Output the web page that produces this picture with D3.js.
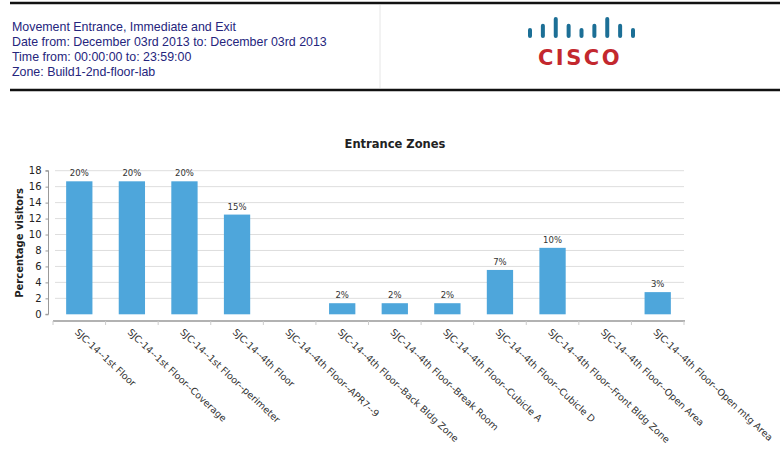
<!DOCTYPE html>
<html><head><meta charset="utf-8">
<script src="https://cdn.jsdelivr.net/npm/d3@7"></script>
<style>body{margin:0;background:#fff}svg{display:block}</style>
</head><body>
<svg id="c" width="780" height="471"></svg>
<script>
const headerLines = ["Movement Entrance, Immediate and Exit","Date from: December 03rd 2013 to: December 03rd 2013","Time from: 00:00:00 to: 23:59:00","Zone: Build1-2nd-floor-lab"];
const chartTitle = "Entrance Zones";
const yTitle = "Percentage visitors";
const categories = ["SJC-14--1st Floor","SJC-14--1st Floor--Coverage","SJC-14--1st Floor--perimeter","SJC-14--4th Floor","SJC-14--4th Floor--APR7--9","SJC-14--4th Floor--Back Bldg Zone","SJC-14--4th Floor--Break Room","SJC-14--4th Floor--Cubicle A","SJC-14--4th Floor--Cubicle D","SJC-14--4th Floor--Front Bldg Zone","SJC-14--4th Floor--Open Area","SJC-14--4th Floor--Open mtg Area"];
const values = [16.67,16.67,16.67,12.5,0,1.39,1.39,1.39,5.56,8.33,0,2.78];
const valueLabels = ["20%","20%","20%","15%","","2%","2%","2%","7%","10%","","3%"];
const yTicks = [0,2,4,6,8,10,12,14,16,18];
const logoBars = [0.35,0.6,1,0.6,0.35,0.6,1,0.6,0.35];

const svg = d3.select("#c");
// header
svg.append("line").attr("x1",10).attr("x2",780).attr("y1",3).attr("y2",3).attr("stroke","#111").attr("stroke-width",2.5);
svg.append("line").attr("x1",10).attr("x2",780).attr("y1",90).attr("y2",90).attr("stroke","#111").attr("stroke-width",2.5);
svg.append("line").attr("x1",380).attr("x2",380).attr("y1",5).attr("y2",88).attr("stroke","#e6e6e6").attr("stroke-width",1);
svg.append("g").selectAll("text").data(headerLines).join("text")
  .attr("x",12).attr("y",(d,i)=>31+i*15)
  .attr("font-family","Liberation Sans, Arial, sans-serif").attr("font-size",12.4).attr("fill","#25257d")
  .text(d=>d);
// cisco logo
const lx = d3.scaleLinear().domain([0,logoBars.length-1]).range([530,633]);
svg.append("g").selectAll("line").data(logoBars).join("line")
  .attr("x1",(d,i)=>lx(i)).attr("x2",(d,i)=>lx(i))
  .attr("y1",d=>36-d*17).attr("y2",36)
  .attr("stroke","#1c6f96").attr("stroke-width",4).attr("stroke-linecap","round");
svg.append("text").attr("x",580).attr("y",65).attr("text-anchor","middle")
  .attr("font-family","DejaVu Sans, sans-serif").attr("font-weight","bold").attr("font-size",21)
  .attr("letter-spacing",2.5).attr("fill","#c3282e").text("CISCO");

// chart
const x = d3.scaleBand().domain(categories).range([53,684]).paddingInner(0).paddingOuter(0);
const y = d3.scaleLinear().domain([0,18]).range([314.3,170.7]);
const font = "DejaVu Sans, Verdana, sans-serif";

svg.append("text").attr("x",395).attr("y",148).attr("text-anchor","middle")
  .attr("font-family",font).attr("font-weight","bold").attr("font-size",11.5).attr("fill","#222").text(chartTitle);

// grid
svg.append("g").selectAll("line").data(yTicks.filter(t=>t>0)).join("line")
  .attr("x1",55).attr("x2",684).attr("y1",d=>y(d)).attr("y2",d=>y(d))
  .attr("stroke","#dedede").attr("stroke-width",1);

// y axis
const yAx = svg.append("g").attr("transform","translate(48.5,0)")
  .call(d3.axisLeft(y).tickValues(yTicks).tickSize(3).tickPadding(4));
yAx.select(".domain").attr("stroke","#999").attr("d",`M-3,${y(18)}H0V${y(0)}H-3`);
yAx.selectAll(".tick line").attr("stroke","#999");
yAx.selectAll("text").attr("font-family",font).attr("font-size",10).attr("fill","#222");

svg.append("text").attr("transform",`translate(23,243) rotate(-90)`).attr("text-anchor","middle")
  .attr("font-family",font).attr("font-weight","bold").attr("font-size",10).attr("fill","#222").text(yTitle);

// bars
const bw = x.bandwidth()*0.5;
svg.append("g").selectAll("rect").data(values).join("rect")
  .attr("x",(d,i)=>x(categories[i])+x.bandwidth()/2-bw/2).attr("width",bw)
  .attr("y",d=>y(d)).attr("height",d=>y(0)-y(d)).attr("fill","#4ea6db");
svg.append("g").selectAll("text").data(values).join("text")
  .attr("x",(d,i)=>x(categories[i])+x.bandwidth()/2).attr("y",d=>y(d)-5)
  .attr("text-anchor","middle").attr("font-family",font).attr("font-size",8.5).attr("fill","#333")
  .text((d,i)=>valueLabels[i]);

// x axis
const xAx = svg.append("g").attr("transform","translate(0,321)")
  .call(d3.axisBottom(x).tickSize(0).tickFormat(""));
xAx.select(".domain").attr("stroke","#999").attr("stroke-width",1.5).attr("d","M53,0H685");
xAx.selectAll(".tick").remove();
svg.append("g").selectAll("line").data(d3.range(categories.length+1)).join("line")
  .attr("x1",i=>53+i*x.bandwidth()).attr("x2",i=>53+i*x.bandwidth())
  .attr("y1",321).attr("y2",325).attr("stroke","#ccc");
svg.append("g").selectAll("text").data(categories).join("text")
  .attr("transform",d=>`translate(${x(d)+x.bandwidth()/2-5},333) rotate(43)`)
  .attr("font-family",font).attr("font-size",9.5).attr("fill","#333").text(d=>d);
</script>
</body></html>
